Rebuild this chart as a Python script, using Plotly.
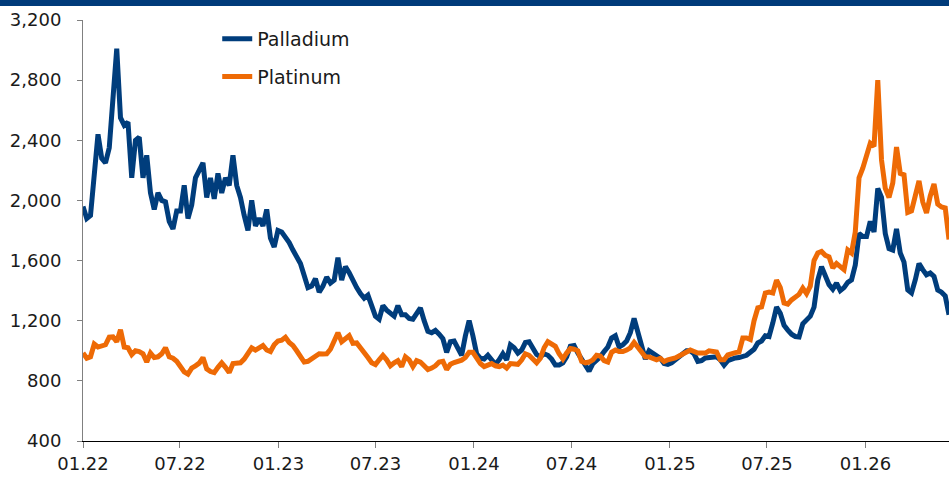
import pandas as pd
import plotly.graph_objects as go

# Weekly observations starting 2022-01-01
start_date = "2022-01-01"

palladium = [
    1960, 1880, 1900, 2150, 2440, 2280, 2250, 2350, 2680, 3010,
    2550, 2500, 2520, 2150, 2400, 2420, 2150, 2300, 2050, 1940,
    2050, 2000, 1990, 1860, 1810, 1930, 1930, 2100, 1880, 1970,
    2150, 2210, 2250, 2020, 2150, 2010, 2180, 2050, 2150, 2100,
    2300, 2100, 2020, 1900, 1800, 2000, 1830, 1880, 1830, 1940,
    1750, 1690, 1800, 1790, 1760, 1720, 1670, 1630, 1580, 1500,
    1420, 1430, 1480, 1390, 1430, 1490, 1450, 1470, 1620, 1470,
    1560, 1520, 1460, 1420, 1380, 1350, 1370, 1300, 1230, 1210,
    1300, 1270, 1250, 1230, 1300, 1240, 1240, 1215, 1210, 1250,
    1285, 1200, 1130, 1120, 1135, 1110, 1080, 990, 1060, 1065,
    1020, 970, 1100, 1200, 1100, 980, 950, 945, 970, 945,
    910, 940, 980, 940, 1040, 1020, 985, 1005, 1055, 1060,
    1020, 975, 960, 980, 970, 945, 905, 905, 920, 960,
    1030, 1035, 985, 940, 900, 865, 915, 935, 960, 995,
    1025, 1085, 1100, 1025, 1040, 1065, 1120, 1215, 1120, 1050,
    945, 1000, 985, 972, 950, 915, 910, 920, 940, 965,
    990, 1000, 1000, 980, 930, 935, 952, 955, 960, 960,
    940, 905, 935, 945, 952, 955, 960, 970, 990, 1010,
    1052, 1065, 1100, 1095, 1185, 1290, 1250, 1170, 1138, 1110,
    1095, 1092, 1180, 1200, 1230, 1290, 1470, 1560, 1500, 1440,
    1410, 1450, 1400, 1420, 1455, 1471, 1570, 1780, 1760, 1760,
    1860, 1790, 2080, 2020, 1780, 1680, 1670, 1810, 1650, 1590,
    1404, 1384, 1471, 1580, 1540, 1505, 1517, 1495, 1404, 1390,
    1365, 1240,
]

platinum = [
    985, 950, 960, 1045, 1025, 1030, 1040, 1090, 1092, 1060,
    1140, 1025, 1020, 975, 1000, 995, 980, 925, 985, 955,
    960, 980, 1020, 960, 950, 930, 890, 860, 845, 885,
    900, 918, 955, 880, 862, 855, 890, 920, 890, 855,
    915, 920, 920, 945, 990, 1020, 1005, 1020, 1035, 1005,
    995, 1040, 1065, 1070, 1090, 1055, 1035, 1000, 960, 925,
    930, 945, 960, 980, 978, 980, 1010, 1065, 1120, 1060,
    1080, 1100, 1050, 1052, 1020, 980, 955, 920, 908, 940,
    970, 940, 900, 920, 935, 895, 960, 940, 895, 935,
    925, 900, 875, 885, 900, 925, 930, 875, 910, 922,
    930, 938, 955, 990, 990, 945, 915, 895, 905, 915,
    900, 895, 905, 885, 915, 915, 910, 938, 980, 970,
    950, 920, 950, 1020, 1060, 1040, 1030, 980, 945, 985,
    1015, 1010, 1000, 930, 920, 925, 940, 970, 965, 935,
    925, 990, 1005, 995, 995, 1005, 1020, 1055, 1020, 985,
    960, 959, 945, 940, 950, 928, 940, 945, 952, 965,
    980, 995, 1005, 995, 985, 985, 985, 1000, 1000, 992,
    940, 940, 972, 982, 988, 992, 1085, 1085, 1075, 1200,
    1285, 1291, 1384, 1390, 1384, 1470, 1420, 1318, 1310, 1338,
    1360, 1375, 1417, 1380, 1430, 1600, 1650, 1660, 1635, 1625,
    1551, 1580, 1560, 1540, 1670, 1650, 1790, 2150, 2215, 2300,
    2380, 2360, 2800, 2269, 2080, 2020, 2116, 2355, 2180, 2170,
    1920, 1930, 2040, 2130, 1990, 1916, 2030, 2110, 1975, 1956,
    1950, 1740,
]

dates = pd.date_range(start_date, periods=len(palladium), freq="7D")

y_ticks = [400, 800, 1200, 1600, 2000, 2400, 2800, 3200]

BLUE = "#003d7c"
ORANGE = "#ee6a05"
FONT = "DejaVu Sans"

fig = go.Figure()
fig.add_trace(go.Scatter(x=dates, y=palladium, mode="lines", name="Palladium",
                         line=dict(color=BLUE, width=5), legendgroup="a"))
fig.add_trace(go.Scatter(x=dates, y=platinum, mode="lines", name="Platinum",
                         line=dict(color=ORANGE, width=5), legendgroup="b"))

fig.update_layout(
    width=949, height=481,
    margin=dict(l=83, r=0, t=20, b=40),
    paper_bgcolor="white", plot_bgcolor="white",
    font=dict(family=FONT, size=18, color="#1a1a1a"),
    showlegend=True,
    legend=dict(x=0.155, y=1.0, xanchor="left", yanchor="top",
                bgcolor="rgba(0,0,0,0)", font=dict(size=19, color="#1a1a1a"),
                traceorder="grouped", tracegroupgap=10),
)

fig.update_xaxes(
    type="date",
    range=[dates[0], dates[-1]],
    tick0="2022-01-01", dtick="M6", tickformat="%m.%y",
    showgrid=False, zeroline=False,
    showline=True, linecolor="#000000", linewidth=1,
    ticks="outside", ticklen=6, tickcolor="#808080", tickwidth=1,
    tickfont=dict(size=18),
)
fig.update_yaxes(
    range=[400, 3200], tickvals=y_ticks, tickformat=",",
    showgrid=False, zeroline=False,
    showline=True, linecolor="#808080", linewidth=1,
    ticks="outside", ticklen=5, tickcolor="#808080", tickwidth=1,
    tickfont=dict(size=18), ticklabelstandoff=12,
)

# Dark header band across the top of the page
fig.add_shape(type="rect", xref="paper", yref="paper",
              x0=-83 / 866, x1=1.0, y0=1 + 14 / 421, y1=1 + 21 / 421,
              fillcolor="#003b7a", line=dict(width=0), layer="above")

fig.write_html("out.html",
               config={"displayModeBar": False},
               post_script="document.body.style.margin='0';document.body.style.padding='0';")
